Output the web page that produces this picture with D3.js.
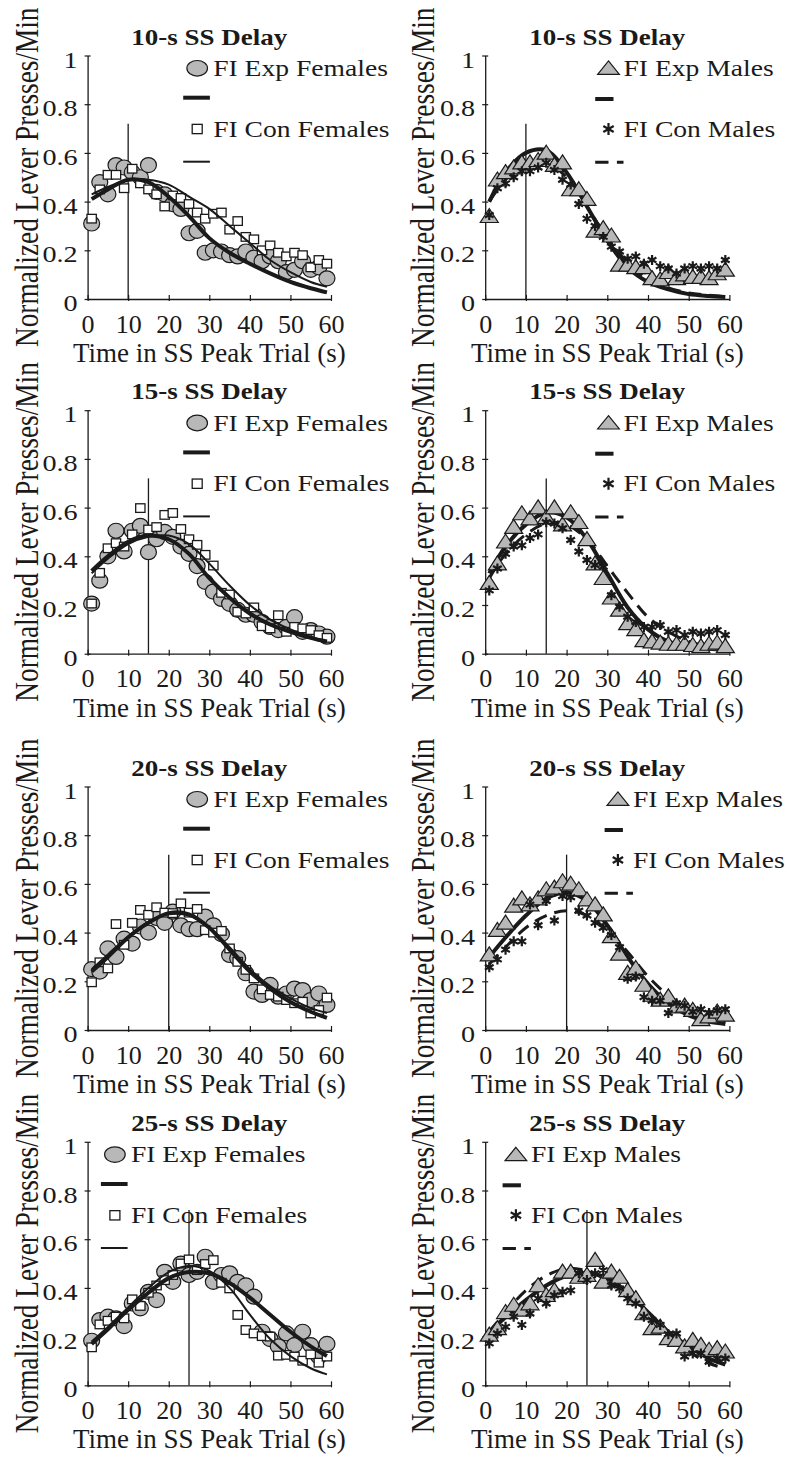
<!DOCTYPE html>
<html><head><meta charset="utf-8">
<script src="https://cdn.jsdelivr.net/npm/d3@7"></script>
<style>body{margin:0;background:#fff}svg{display:block}</style>
</head><body>
<svg id="chart" width="790" height="1458"></svg>
<script>
// ---------- data ----------
const times = [1,3,5,7,9,11,13,15,17,19,21,23,25,27,29,31,33,35,37,39,41,43,45,47,49,51,53,55,57,59];
const delays = [10,15,20,25];
const titles = ["10-s SS Delay","15-s SS Delay","20-s SS Delay","25-s SS Delay"];
const xTicks = [0,10,20,30,40,50,60];
const yTicks = [0,0.2,0.4,0.6,0.8,1];
const yTickLabels = ["0","0.2","0.4","0.6","0.8","1"];
const femaleLabels = ["FI Exp Females","FI Con Females"];
const maleLabels = ["FI Exp Males","FI Con Males"];
const yLabel = "Normalized Lever Presses/Min";
const xLabel = "Time in SS Peak Trial (s)";

const femExp10 = [0.31,0.48,0.43,0.55,0.54,0.52,0.50,0.55,0.44,0.43,0.39,0.37,0.27,0.28,0.19,0.20,0.195,0.18,0.175,0.195,0.17,0.155,0.175,0.155,0.11,0.12,0.155,0.12,0.13,0.085];
const femCon10 = [0.33,0.45,0.51,0.51,0.455,0.535,0.475,0.45,0.43,0.38,0.425,0.415,0.39,0.355,0.33,0.35,0.355,0.285,0.32,0.255,0.245,0.20,0.22,0.19,0.175,0.19,0.18,0.13,0.16,0.145];
const maleExp10 = [0.34,0.49,0.52,0.54,0.56,0.56,0.57,0.60,0.55,0.56,0.45,0.45,0.41,0.28,0.29,0.26,0.14,0.14,0.13,0.13,0.085,0.08,0.11,0.085,0.10,0.09,0.09,0.085,0.105,0.12];
const maleCon10 = [0.345,0.455,0.475,0.50,0.525,0.525,0.54,0.56,0.53,0.49,0.47,0.39,0.33,0.30,0.255,0.215,0.195,0.165,0.175,0.145,0.16,0.135,0.125,0.105,0.125,0.135,0.125,0.135,0.125,0.16];

const femExp15 = [0.206,0.30,0.40,0.505,0.42,0.505,0.525,0.417,0.47,0.50,0.48,0.44,0.41,0.36,0.295,0.255,0.225,0.205,0.18,0.16,0.16,0.13,0.11,0.097,0.11,0.15,0.09,0.097,0.083,0.07];
const femCon15 = [0.206,0.332,0.433,0.454,0.44,0.49,0.598,0.51,0.52,0.57,0.578,0.512,0.47,0.447,0.406,0.362,0.25,0.243,0.172,0.165,0.19,0.113,0.104,0.158,0.09,0.11,0.104,0.097,0.076,0.065];
const maleExp15 = [0.29,0.37,0.46,0.52,0.576,0.555,0.60,0.56,0.60,0.53,0.58,0.54,0.47,0.37,0.31,0.23,0.18,0.125,0.10,0.055,0.05,0.045,0.04,0.04,0.04,0.035,0.03,0.04,0.045,0.03];
const maleCon15 = [0.26,0.35,0.41,0.44,0.445,0.475,0.49,0.54,0.535,0.515,0.467,0.42,0.385,0.364,0.357,0.24,0.193,0.152,0.13,0.11,0.11,0.118,0.09,0.097,0.077,0.09,0.083,0.09,0.097,0.077];

const femExp20 = [0.25,0.24,0.335,0.30,0.375,0.355,0.425,0.40,0.46,0.44,0.486,0.43,0.414,0.414,0.466,0.43,0.394,0.308,0.295,0.233,0.158,0.144,0.185,0.137,0.15,0.17,0.164,0.123,0.15,0.103];
const femCon20 = [0.196,0.278,0.253,0.435,0.35,0.44,0.493,0.473,0.504,0.482,0.48,0.52,0.482,0.497,0.41,0.40,0.407,0.335,0.28,0.247,0.212,0.167,0.144,0.137,0.123,0.11,0.116,0.068,0.082,0.133];
const maleExp20 = [0.31,0.41,0.44,0.51,0.54,0.515,0.54,0.577,0.584,0.61,0.60,0.577,0.536,0.515,0.474,0.385,0.313,0.234,0.254,0.185,0.144,0.124,0.137,0.096,0.099,0.082,0.044,0.055,0.075,0.062];
const maleCon20 = [0.258,0.29,0.33,0.364,0.364,0.515,0.43,0.53,0.45,0.55,0.545,0.49,0.47,0.44,0.42,0.39,0.34,0.21,0.22,0.135,0.12,0.12,0.07,0.11,0.10,0.075,0.085,0.07,0.08,0.085];

const femExp25 = [0.183,0.268,0.282,0.275,0.243,0.336,0.316,0.384,0.35,0.466,0.425,0.50,0.453,0.466,0.528,0.425,0.453,0.46,0.425,0.41,0.364,0.22,0.19,0.16,0.213,0.165,0.22,0.165,0.118,0.17];
const femCon25 = [0.156,0.25,0.265,0.282,0.275,0.353,0.326,0.38,0.41,0.432,0.453,0.50,0.517,0.473,0.498,0.514,0.421,0.398,0.289,0.227,0.213,0.202,0.20,0.122,0.125,0.118,0.101,0.127,0.093,0.118];
const maleExp25 = [0.207,0.234,0.30,0.33,0.31,0.336,0.41,0.37,0.39,0.466,0.466,0.445,0.453,0.514,0.425,0.466,0.445,0.39,0.357,0.295,0.234,0.24,0.193,0.186,0.159,0.186,0.165,0.145,0.152,0.138];
const maleCon25 = [0.172,0.213,0.24,0.282,0.248,0.295,0.357,0.336,0.37,0.384,0.39,0.46,0.432,0.46,0.473,0.41,0.398,0.357,0.336,0.282,0.268,0.248,0.21,0.213,0.118,0.131,0.131,0.097,0.11,0.11];

// fitted curves read at these times
const fitTimes = [1,5,10,15,20,25,30,35,40,45,50,55,59];
const femExpFit10 = [0.41,0.45,0.49,0.48,0.42,0.34,0.25,0.19,0.145,0.105,0.07,0.044,0.027];
const femConFit10 = [0.43,0.46,0.49,0.49,0.47,0.42,0.37,0.30,0.23,0.16,0.11,0.07,0.05];
const maleExpFit10 = [0.40,0.52,0.60,0.61,0.52,0.38,0.24,0.13,0.07,0.04,0.02,0.012,0.008];
const maleConFit10 = [0.40,0.49,0.55,0.56,0.50,0.38,0.25,0.15,0.08,0.045,0.025,0.015,0.01];
const femExpFit15 = [0.34,0.40,0.46,0.485,0.47,0.41,0.31,0.23,0.165,0.12,0.09,0.065,0.05];
const femConFit15 = [0.33,0.39,0.45,0.48,0.485,0.45,0.37,0.28,0.20,0.14,0.10,0.07,0.05];
const maleExpFit15 = [0.33,0.44,0.53,0.58,0.56,0.47,0.33,0.19,0.10,0.05,0.03,0.02,0.015];
const maleConFit15 = [0.31,0.41,0.49,0.535,0.53,0.47,0.36,0.25,0.15,0.09,0.05,0.03,0.02];
const femExpFit20 = [0.24,0.30,0.38,0.44,0.48,0.475,0.42,0.33,0.24,0.17,0.115,0.075,0.05];
const femConFit20 = [0.25,0.31,0.385,0.445,0.475,0.47,0.42,0.34,0.25,0.18,0.13,0.09,0.07];
const maleExpFit20 = [0.30,0.38,0.47,0.54,0.565,0.53,0.43,0.30,0.19,0.11,0.06,0.035,0.025];
const maleConFit20 = [0.27,0.34,0.42,0.47,0.49,0.47,0.41,0.32,0.22,0.14,0.08,0.045,0.03];
const femExpFit25 = [0.17,0.23,0.31,0.38,0.44,0.465,0.46,0.42,0.36,0.29,0.22,0.16,0.12];
const femConFit25 = [0.18,0.24,0.32,0.40,0.465,0.49,0.47,0.40,0.29,0.19,0.12,0.07,0.045];
const maleExpFit25 = [0.22,0.28,0.35,0.41,0.45,0.46,0.44,0.38,0.30,0.22,0.16,0.11,0.085];
const maleConFit25 = [0.22,0.30,0.39,0.45,0.48,0.47,0.43,0.37,0.29,0.21,0.14,0.09,0.07];
const markerLineTop = 0.72;

// ---------- layout ----------
const ink = "#1a1a1a", gray = "#b8b8b8";
const FONT = "'Liberation Serif','Times New Roman',Times,serif";
const colX = [[87.6,331.0],[485.2,729.4]];
const rowY0 = [299,653.7,1030,1385.3];
const plotH = 243.5;
const legendMX = [109.6,123.3,109.6,123.3,109.6,132.7,27.3,30.7];

const panels = [
  {exp:femExp10, con:femCon10, ef:femExpFit10, cf:femConFit10},
  {exp:maleExp10, con:maleCon10, ef:maleExpFit10, cf:maleConFit10},
  {exp:femExp15, con:femCon15, ef:femExpFit15, cf:femConFit15},
  {exp:maleExp15, con:maleCon15, ef:maleExpFit15, cf:maleConFit15},
  {exp:femExp20, con:femCon20, ef:femExpFit20, cf:femConFit20},
  {exp:maleExp20, con:maleCon20, ef:maleExpFit20, cf:maleConFit20},
  {exp:femExp25, con:femCon25, ef:femExpFit25, cf:femConFit25},
  {exp:maleExp25, con:maleCon25, ef:maleExpFit25, cf:maleConFit25}
];

const svg = d3.select("#chart");

function stext(g, x, y, str, size, sx, anchor, weight){
  return g.append("text")
    .attr("transform", `translate(${x},${y}) scale(${sx},1)`)
    .attr("text-anchor", anchor)
    .style("font-family", FONT).style("font-size", size+"px")
    .style("font-weight", weight||"normal").attr("fill", ink)
    .text(str);
}

function drawMarker(g, type, cx, cy, big){
  if(type==="circle"){
    g.append("ellipse").attr("cx",cx).attr("cy",cy)
      .attr("rx", big?10.3:8).attr("ry", big?7.8:7.5)
      .attr("fill",gray).attr("stroke",ink).attr("stroke-width",1.2);
  } else if(type==="square"){
    const w = big?10:9.3, h = big?9.3:8.6;
    g.append("rect").attr("x",cx-w/2).attr("y",cy-h/2).attr("width",w).attr("height",h)
      .attr("fill","#fff").attr("stroke",ink).attr("stroke-width",1.3);
  } else if(type==="triangle"){
    const w = big?21.7:18, h = big?13.3:14;
    g.append("path").attr("d",`M${cx},${cy-h*0.55}L${cx+w/2},${cy+h*0.45}L${cx-w/2},${cy+h*0.45}Z`)
      .attr("fill",gray).attr("stroke",ink).attr("stroke-width",1.2);
  } else {
    const r = big?6:5;
    const c = Math.cos(Math.PI/6)*r, s = Math.sin(Math.PI/6)*r;
    g.append("path").attr("d",`M${cx},${cy-r}L${cx},${cy+r}M${cx-c},${cy-s}L${cx+c},${cy+s}M${cx-c},${cy+s}L${cx+c},${cy-s}`)
      .attr("stroke",ink).attr("stroke-width",2.2).attr("fill","none");
  }
}

panels.forEach((p,i)=>{
  const row = Math.floor(i/2), col = i%2, female = col===0;
  const y0 = rowY0[row];
  const x = d3.scaleLinear().domain([0,60]).range(colX[col]);
  const y = d3.scaleLinear().domain([0,1]).range([y0, y0-plotH]);
  const g = svg.append("g");
  const ax = colX[col][0];

  // y label
  g.append("text")
    .attr("transform", `translate(${col?433.5:37.5},${y0+48}) scale(1.22,1) rotate(-90)`)
    .attr("text-anchor","start").style("font-family",FONT).style("font-size","27.3px")
    .attr("fill",ink).text(yLabel);

  // title
  stext(g, (colX[col][0]+colX[col][1])/2, y0-254.5, titles[row], 22.5, 1.2, "middle", "bold");

  // axes
  const yAxis = d3.axisLeft(y).tickValues(yTicks)
    .tickFormat(d=>yTickLabels[yTicks.indexOf(d)]).tickSizeInner(3).tickSizeOuter(0).tickPadding(10);
  const gy = g.append("g").attr("transform",`translate(${ax},0)`).call(yAxis);
  gy.attr("font-size",null).attr("font-family",null);
  gy.select(".domain").attr("stroke",ink).attr("stroke-width",1.3);
  gy.selectAll(".tick line").attr("x1",3).attr("stroke",ink).attr("stroke-width",1.2);
  gy.selectAll(".tick text").attr("x",-10/1.2).attr("dy",null).attr("y",11.5)
    .attr("transform","scale(1.2,1)").attr("fill",ink)
    .style("font-family",FONT).style("font-size","23.5px");

  const xAxis = d3.axisBottom(x).tickValues(xTicks).tickFormat(d=>String(d))
    .tickSizeInner(-4).tickSizeOuter(0);
  const gx = g.append("g").attr("transform",`translate(0,${y0})`).call(xAxis);
  gx.attr("font-size",null).attr("font-family",null);
  gx.select(".domain").attr("stroke",ink).attr("stroke-width",1.3);
  gx.selectAll(".tick line").attr("y1",2).attr("stroke",ink).attr("stroke-width",1.2);
  gx.selectAll(".tick text").attr("y",33.5).attr("dy",null).attr("fill",ink)
    .style("font-family",FONT).style("font-size","26px");

  stext(g, (colX[col][0]+colX[col][1])/2, y0+63, xLabel, 27, 1.0, "middle");

  // delay marker line
  g.append("line").attr("x1",x(delays[row])).attr("x2",x(delays[row]))
    .attr("y1",y(0)).attr("y2",y(markerLineTop)).attr("stroke",ink).attr("stroke-width",1.3);

  const line = d3.line().x((d,k)=>x(fitTimes[k])).y(d=>y(d)).curve(d3.curveCatmullRom.alpha(0.5));
  const expLine = ()=>g.append("path").attr("d",line(p.ef)).attr("fill","none").attr("stroke",ink)
      .attr("stroke-width",4).attr("stroke-linecap","butt");
  const conLine = ()=>{
    const pth = g.append("path").attr("d",line(p.cf)).attr("fill","none").attr("stroke",ink);
    if(female) pth.attr("stroke-width",2);
    else pth.attr("stroke-width",3).attr("stroke-dasharray","13,8");
  };

  if(female){
    times.forEach((t,k)=>drawMarker(g,"circle",x(t),y(p.exp[k])));
    times.forEach((t,k)=>drawMarker(g,"square",x(t),y(p.con[k])));
    expLine(); conLine();
  } else {
    expLine(); conLine();
    times.forEach((t,k)=>drawMarker(g,"triangle",x(t),y(p.exp[k])));
    times.forEach((t,k)=>drawMarker(g,"asterisk",x(t),y(p.con[k])));
  }

  // legend
  const mx = ax + legendMX[i];
  const labels = female ? femaleLabels : maleLabels;
  drawMarker(g, female?"circle":"triangle", mx, y0-230.7, true);
  stext(g, mx+(female?16:15), y0-223, labels[0], 23, 1.2, "start");
  drawMarker(g, female?"square":"asterisk", mx, y0-170, true);
  stext(g, mx+(female?16:15), y0-162.3, labels[1], 23, 1.2, "start");
  if(female){
    g.append("line").attr("x1",mx-14).attr("x2",mx+12.7).attr("y1",y0-201.3).attr("y2",y0-201.3)
      .attr("stroke",ink).attr("stroke-width",4);
    g.append("line").attr("x1",mx-14).attr("x2",mx+12.7).attr("y1",y0-137.3).attr("y2",y0-137.3)
      .attr("stroke",ink).attr("stroke-width",2);
  } else {
    g.append("line").attr("x1",mx-13.3).attr("x2",mx+5).attr("y1",y0-200).attr("y2",y0-200)
      .attr("stroke",ink).attr("stroke-width",4);
    g.append("line").attr("x1",mx-13.3).attr("x2",mx+15).attr("y1",y0-136.7).attr("y2",y0-136.7)
      .attr("stroke",ink).attr("stroke-width",3).attr("stroke-dasharray","13.3,8.4");
  }
});
</script>
</body></html>
